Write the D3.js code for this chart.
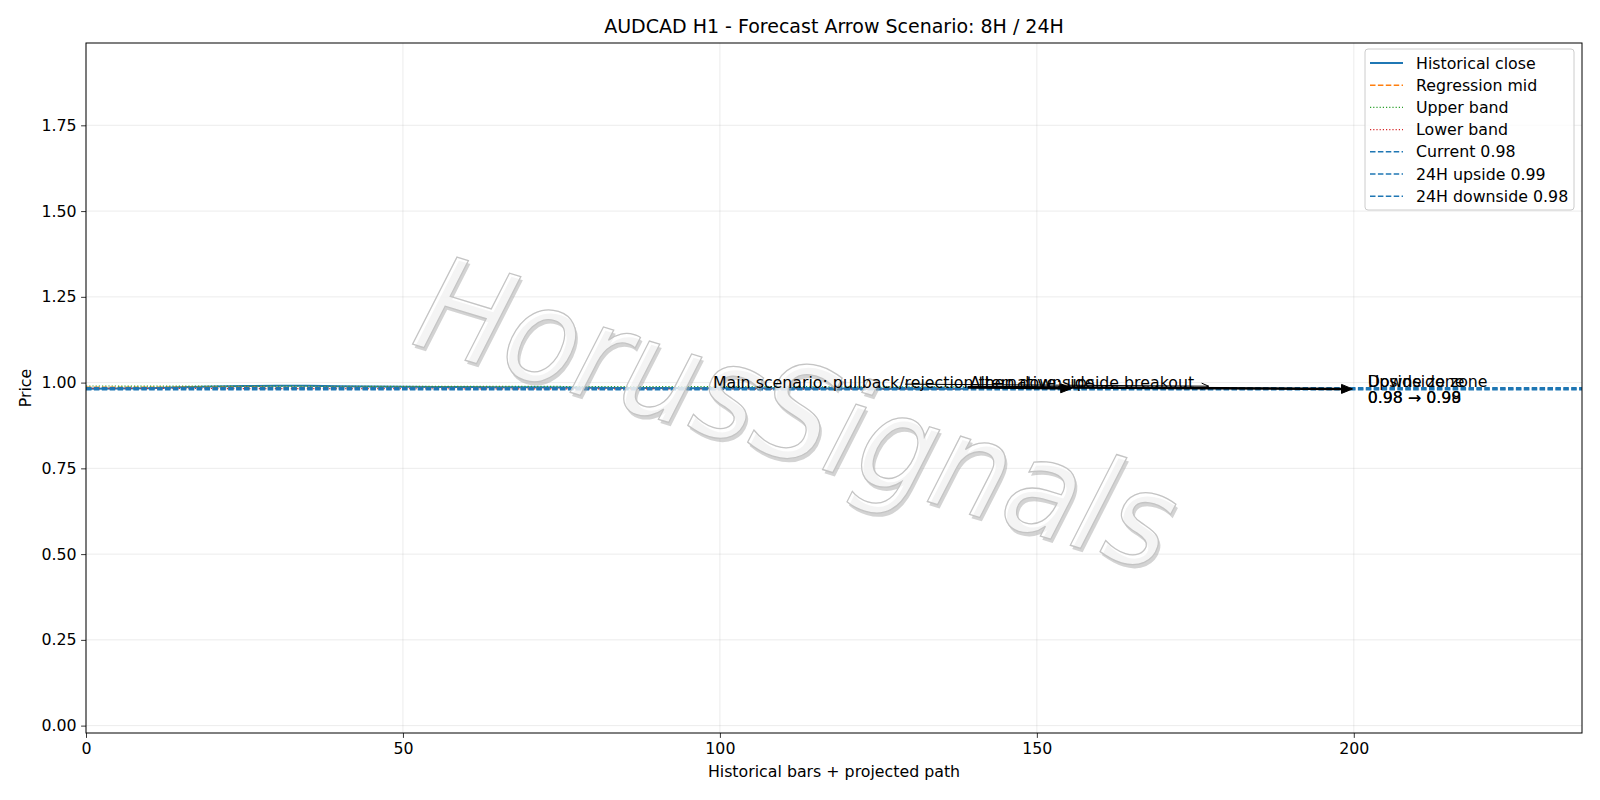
<!DOCTYPE html>
<html>
<head>
<meta charset="utf-8">
<script src="https://cdn.jsdelivr.net/npm/d3@7"></script>
<style>
  body { margin: 0; background: #fff; }
  svg text { font-family: "DejaVu Sans", sans-serif; }
</style>
</head>
<body>
<div id="chart"></div>
<script>
// AUDCAD H1 forecast arrow chart

// Historical close (bar index, price)
const closeX = [0, 5, 10, 15, 20, 25, 30, 35, 40, 45, 50, 55, 60, 65, 70, 75, 80, 85, 90, 95, 100, 105, 110, 115, 120, 125, 130, 135, 139];
const closeY = [0.9822, 0.9826, 0.9838, 0.9861, 0.9889, 0.9902, 0.9905, 0.9908, 0.9897, 0.9884, 0.9876, 0.9872, 0.9870, 0.9866, 0.9862, 0.9858, 0.9851, 0.9846, 0.9840, 0.9838, 0.9836, 0.9834, 0.9830, 0.9828, 0.9826, 0.9823, 0.9821, 0.9819, 0.9818];

// Regression channel (end points)
const regX = [0, 139];
const regMid = [0.9866, 0.9840];
const regUpper = [0.9901, 0.9875];
const regLower = [0.9831, 0.9805];

// Horizontal levels
const levelNames = ['Current 0.98', '24H upside 0.99', '24H downside 0.98'];
const levelValues = [0.9818, 0.9852, 0.9795];

// Scenario arrows: [x1, y1, x2, y2]
const mainArrow = [139.1, 0.9868, 155.5, 0.9830];
const longArrow = [139.1, 0.9868, 199.8, 0.9815];
const altArrow = [129.2, 0.9955, 177.1, 0.9895];

// Labels
const mainLabel = { x: 98.9, y: 0.9845, text: 'Main scenario: pullback/rejection then downside' };
const altLabel = { x: 139.4, y: 0.9845, text: 'Alternative: upside breakout' };
const zoneLabels = [
    { x: 202.2, y: 0.9880, lines: ['Upside zone', '0.98 \u2192 0.99'] },
    { x: 202.2, y: 0.9875, lines: ['Downside zone', '0.98 \u2192 0.98'] }
];

const xTicks = [0, 50, 100, 150, 200];
const yTicks = [0, 0.25, 0.5, 0.75, 1.0, 1.25, 1.5, 1.75];

const width = 1600;
const height = 800;
const margin = { top: 43, right: 18, bottom: 67, left: 86 };
const fs = 15.8;

const svg = d3.select('#chart')
    .append('svg')
    .attr('width', width)
    .attr('height', height);

const xScale = d3.scaleLinear()
    .domain([0, 236])
    .range([margin.left, width - margin.right]);

const yScale = d3.scaleLinear()
    .domain([-0.0215, 1.99])
    .range([height - margin.bottom, margin.top]);

const plotW = width - margin.left - margin.right;
const plotH = height - margin.top - margin.bottom;

svg.append('defs').append('clipPath')
    .attr('id', 'plot-clip')
    .append('rect')
    .attr('x', margin.left).attr('y', margin.top)
    .attr('width', plotW).attr('height', plotH);

// Grid lines
const grid = svg.append('g');
grid.selectAll('.gx').data(xTicks).enter().append('line')
    .attr('x1', d => xScale(d)).attr('x2', d => xScale(d))
    .attr('y1', margin.top).attr('y2', height - margin.bottom)
    .attr('stroke', '#b0b0b0').attr('stroke-opacity', 0.3).attr('stroke-width', 0.8);
grid.selectAll('.gy').data(yTicks).enter().append('line')
    .attr('y1', d => yScale(d)).attr('y2', d => yScale(d))
    .attr('x1', margin.left).attr('x2', width - margin.right)
    .attr('stroke', '#b0b0b0').attr('stroke-opacity', 0.3).attr('stroke-width', 0.8);

const plot = svg.append('g').attr('clip-path', 'url(#plot-clip)');

const line = d3.line()
    .x(d => xScale(d[0]))
    .y(d => yScale(d[1]));

// Historical close
plot.append('path')
    .attr('d', line(closeX.map((x, i) => [x, closeY[i]])))
    .attr('fill', 'none')
    .attr('stroke', '#1f77b4')
    .attr('stroke-width', 2);

// Regression channel
plot.append('path')
    .attr('d', line(regX.map((x, i) => [x, regMid[i]])))
    .attr('fill', 'none').attr('stroke', '#ff7f0e')
    .attr('stroke-width', 1.5).attr('stroke-dasharray', '5.5,2.4');
plot.append('path')
    .attr('d', line(regX.map((x, i) => [x, regUpper[i]])))
    .attr('fill', 'none').attr('stroke', '#2ca02c')
    .attr('stroke-width', 1.2).attr('stroke-dasharray', '1.2,2');
plot.append('path')
    .attr('d', line(regX.map((x, i) => [x, regLower[i]])))
    .attr('fill', 'none').attr('stroke', '#d62728')
    .attr('stroke-width', 1.2).attr('stroke-dasharray', '1.2,2');

// Horizontal levels
plot.selectAll('.level').data(levelValues).enter().append('line')
    .attr('x1', margin.left).attr('x2', width - margin.right)
    .attr('y1', d => yScale(d)).attr('y2', d => yScale(d))
    .attr('stroke', '#1f77b4')
    .attr('stroke-width', 1.5)
    .attr('stroke-dasharray', '5.5,2.4');

// Watermark
const wm = svg.append('g')
    .attr('transform', 'translate(797,414) rotate(17)');
wm.append('text')
    .attr('transform', 'translate(3,3) scale(1,1.1)')
    .attr('text-anchor', 'middle')
    .attr('dominant-baseline', 'central')
    .attr('font-size', 120)
    .attr('font-style', 'italic')
    .attr('fill', '#a8a8a8')
    .attr('fill-opacity', 0.5)
    .text('HorusSignals');
wm.append('text')
    .attr('transform', 'scale(1,1.1)')
    .attr('text-anchor', 'middle')
    .attr('dominant-baseline', 'central')
    .attr('font-size', 120)
    .attr('font-style', 'italic')
    .attr('fill', '#ffffff')
    .attr('fill-opacity', 0.75)
    .attr('stroke', '#c4c4c4')
    .attr('stroke-width', 1.2)
    .text('HorusSignals');

// Arrows
function drawArrow(g, a, lw, filled) {
    const x1 = xScale(a[0]), y1 = yScale(a[1]);
    const x2 = xScale(a[2]), y2 = yScale(a[3]);
    const ang = Math.atan2(y2 - y1, x2 - x1);
    const hl = filled ? 11 : 7;
    const hw = filled ? 4.5 : 3;
    const bx = x2 - hl * Math.cos(ang), by = y2 - hl * Math.sin(ang);
    const px = -Math.sin(ang) * hw, py = Math.cos(ang) * hw;
    g.append('line')
        .attr('x1', x1).attr('y1', y1)
        .attr('x2', filled ? bx : x2).attr('y2', filled ? by : y2)
        .attr('stroke', '#000').attr('stroke-width', lw);
    if (filled) {
        g.append('path')
            .attr('d', `M${x2},${y2}L${bx + px},${by + py}L${bx - px},${by - py}Z`)
            .attr('fill', '#000').attr('stroke', '#000').attr('stroke-width', 1);
    } else {
        g.append('path')
            .attr('d', `M${bx + px},${by + py}L${x2},${y2}L${bx - px},${by - py}`)
            .attr('fill', 'none').attr('stroke', '#000').attr('stroke-width', lw);
    }
}

const arrows = svg.append('g');
drawArrow(arrows, altArrow, 1, false);
drawArrow(arrows, longArrow, 2.5, true);
drawArrow(arrows, mainArrow, 2.5, true);

// Scenario labels
const labels = svg.append('g').attr('font-size', fs).attr('fill', '#000');
[mainLabel, altLabel].forEach(l => {
    labels.append('text')
        .attr('x', xScale(l.x))
        .attr('y', yScale(l.y))
        .text(l.text);
});
zoneLabels.forEach(z => {
    const t = labels.append('text')
        .attr('x', xScale(z.x))
        .attr('y', yScale(z.y));
    z.lines.forEach((s, i) => {
        t.append('tspan')
            .attr('x', xScale(z.x))
            .attr('dy', i === 0 ? 0 : 16.5)
            .text(s);
    });
});

// Axes frame
svg.append('rect')
    .attr('x', margin.left).attr('y', margin.top)
    .attr('width', plotW).attr('height', plotH)
    .attr('fill', 'none').attr('stroke', '#000').attr('stroke-width', 1);

const xAxis = svg.append('g')
    .attr('transform', `translate(0,${height - margin.bottom})`)
    .call(d3.axisBottom(xScale).tickValues(xTicks).tickSize(4.9).tickPadding(4.5).tickFormat(d3.format('d')));
const yAxis = svg.append('g')
    .attr('transform', `translate(${margin.left},0)`)
    .call(d3.axisLeft(yScale).tickValues(yTicks).tickSize(4.9).tickPadding(4.5).tickFormat(d3.format('.2f')));

[xAxis, yAxis].forEach(ax => {
    ax.select('.domain').remove();
    ax.selectAll('.tick line').attr('stroke', '#000').attr('stroke-width', 0.8);
    ax.selectAll('.tick text')
        .attr('fill', '#000')
        .style('font-family', '"DejaVu Sans", sans-serif')
        .style('font-size', fs + 'px');
});

// Title and axis labels
svg.append('text')
    .attr('x', margin.left + plotW / 2)
    .attr('y', 33)
    .attr('text-anchor', 'middle')
    .attr('font-size', 19)
    .text('AUDCAD H1 - Forecast Arrow Scenario: 8H / 24H');

svg.append('text')
    .attr('x', margin.left + plotW / 2)
    .attr('y', 777)
    .attr('text-anchor', 'middle')
    .attr('font-size', fs)
    .text('Historical bars + projected path');

svg.append('text')
    .attr('transform', 'translate(31,388) rotate(-90)')
    .attr('text-anchor', 'middle')
    .attr('font-size', fs)
    .text('Price');

// Legend
const legendItems = [
    { name: 'Historical close', color: '#1f77b4', dash: null, lw: 2 },
    { name: 'Regression mid', color: '#ff7f0e', dash: '5.5,2.4', lw: 1.5 },
    { name: 'Upper band', color: '#2ca02c', dash: '1.2,2', lw: 1.2 },
    { name: 'Lower band', color: '#d62728', dash: '1.2,2', lw: 1.2 }
].concat(levelNames.map(n => ({ name: n, color: '#1f77b4', dash: '5.5,2.4', lw: 1.5 })));

const legend = svg.append('g');
legend.append('rect')
    .attr('x', 1365).attr('y', 49)
    .attr('width', 209).attr('height', 161)
    .attr('rx', 3)
    .attr('fill', '#fff').attr('fill-opacity', 0.8)
    .attr('stroke', '#cccccc').attr('stroke-width', 1);

legendItems.forEach((item, i) => {
    const cy = 63 + i * 22.2;
    legend.append('line')
        .attr('x1', 1370).attr('x2', 1403)
        .attr('y1', cy).attr('y2', cy)
        .attr('stroke', item.color)
        .attr('stroke-width', item.lw)
        .attr('stroke-dasharray', item.dash);
    legend.append('text')
        .attr('x', 1416)
        .attr('y', cy)
        .attr('dy', '0.36em')
        .attr('font-size', fs)
        .text(item.name);
});
</script>
</body>
</html>
